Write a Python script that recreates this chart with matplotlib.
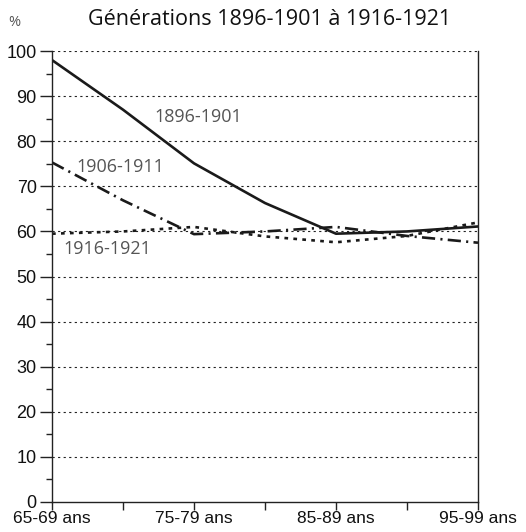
import numpy as np
import matplotlib.pyplot as plt
from matplotlib.ticker import MultipleLocator

# Groupes d'âge (positions 0..6)
ages = ['65-69 ans', '70-74 ans', '75-79 ans', '80-84 ans', '85-89 ans', '90-94 ans', '95-99 ans']
gen_1896 = [98, 87, 75.1, 66.3, 59.5, 60, 61.1]
gen_1906 = [75.3, 66.9, 59.4, 60, 61, 59, 57.5]
gen_1916 = [59.5, 60, 61, 58.9, 57.6, 59, 62]

fig = plt.figure(figsize=(5.26, 5.32), dpi=100)
ax = fig.add_axes([0.0989, 0.0564, 0.8098, 0.8476])

x = np.arange(len(ages))
ax.plot(x, gen_1896, color='#1a1a1a', lw=1.9, ls='-')
ax.plot(x, gen_1906, color='#1a1a1a', lw=1.9, ls=(0, (5, 2, 0.8, 2)))
ax.plot(x, gen_1916, color='#1a1a1a', lw=1.9, ls=(0, (1.4, 2)))

ax.set_xlim(0, 6)
ax.set_ylim(0, 100)
ax.yaxis.set_major_locator(MultipleLocator(10))
ax.yaxis.set_minor_locator(MultipleLocator(5))
ax.set_xticks(x)
ax.set_xticklabels([a if i % 2 == 0 else '' for i, a in enumerate(ages)])

for yv in range(10, 101, 10):
    ax.axhline(yv, color='#222222', lw=0.8, ls=(0, (2, 3)), zorder=0)

ax.spines['top'].set_visible(False)
for s in ['left', 'bottom', 'right']:
    ax.spines[s].set_linewidth(1.0)
    ax.spines[s].set_color('#222222')

ax.tick_params(axis='y', which='major', length=9, width=1.0, color='#222222',
               labelsize=13, labelcolor='#111111', pad=2)
ax.tick_params(axis='x', which='major', length=6, width=1.0, color='#222222',
               labelsize=12.5, labelcolor='#111111', pad=0.5)
ax.tick_params(axis='y', which='minor', length=4, width=1.0, color='#222222')
for lab in ax.get_xticklabels() + ax.get_yticklabels():
    lab.set_family('Liberation Sans')

# Étiquettes des courbes
lab_kw = dict(fontsize=13, color='#555555', family='Open Sans')
ax.text(1.44, 85.4, '1896-1901', ha='left', va='center', **lab_kw)
ax.text(0.35, 74.3, '1906-1911', ha='left', va='center', **lab_kw)
ax.text(0.16, 56.1, '1916-1921', ha='left', va='center', **lab_kw)

fig.text(0.513, 0.963, 'Générations 1896-1901 à 1916-1921', ha='center', va='center',
         fontsize=15.5, color='#111111', family='Open Sans')
fig.text(0.027, 0.958, '%', ha='center', va='center', fontsize=10.5, color='#555555',
         family='Open Sans')

fig.savefig('out.png', dpi=100)
